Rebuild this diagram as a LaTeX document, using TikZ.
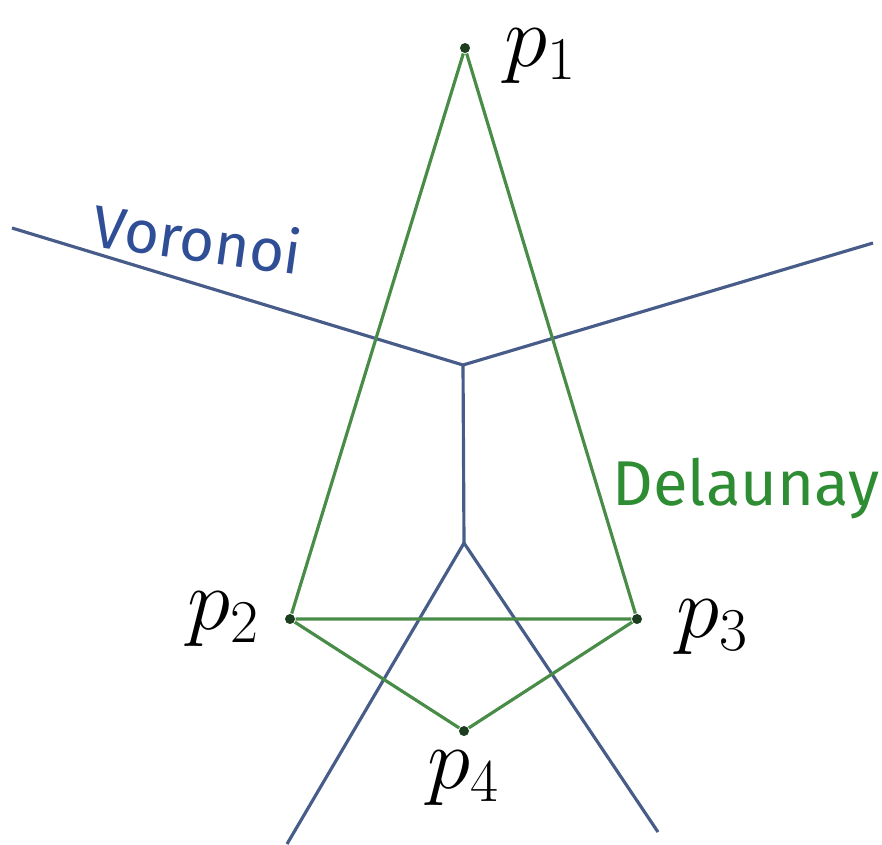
\documentclass[tikz,border=0pt]{standalone}
\usepackage{fontspec}
\newfontfamily\handfont{Fira Sans}
\usetikzlibrary{positioning}
\definecolor{delgreen}{RGB}{72,140,72}
\definecolor{vorblue}{RGB}{72,92,138}
\definecolor{dotgreen}{RGB}{28,62,30}
\definecolor{txtgreen}{RGB}{46,140,50}
\definecolor{txtblue}{RGB}{48,78,150}

\begin{document}
\begin{tikzpicture}[
  x=0.01cm, y=-0.01cm,
  site/.style={circle, fill=dotgreen, inner sep=0pt, minimum size=0.1cm},
  lbl/.style={font=\fontsize{23}{27}\selectfont, inner sep=1pt},
  tagtext/.style={font=\handfont\fontsize{#1}{24}\selectfont, inner sep=0pt},
  del/.style={draw=delgreen, line width=0.9pt},
  vor/.style={draw=vorblue, line width=0.9pt}
]
\useasboundingbox (0,0) rectangle (882,844);

% ---- SITES ----
\node[site] (p1) at (465,48) {};
\node[site] (p2) at (290,619) {};
\node[site] (p3) at (637,619) {};
\node[site] (p4) at (464,731) {};

\node[lbl, right=0.3cm of p1, yshift=-0.08cm] (l1) {$p_1$};
\node[lbl, left=0.2cm of p2] (l2) {$p_2$};
\node[lbl, right=0.3cm of p3, yshift=-0.08cm] (l3) {$p_3$};
\node[lbl, below=0.1cm of p4] (l4) {$p_4$};

% ---- VORONOI ----
\coordinate (v1) at (463,365);
\coordinate (v2) at (464,543);
\coordinate (wl) at (12,228);
\coordinate (wr) at (873,243);
\coordinate (bl) at (287,844);
\coordinate (br) at (658,832);
\draw[vor] (wl) -- (v1) -- (wr);
\draw[vor] (v1) -- (v2);
\draw[vor] (bl) -- (v2) -- (br);

% ---- DELAUNAY ----
\draw[del] (p1) -- (p2) -- (p3) -- (p1);
\draw[del] (p2) -- (p4) -- (p3);

% ---- NAMES ----
\node[tagtext=17, text=txtblue, rotate=-8, anchor=base west] (vname) at (90,246) {Voronoi};
\node[tagtext=18, text=txtgreen, anchor=base west] (dname) at (612,505) {Delaunay};
\end{tikzpicture}
\end{document}
